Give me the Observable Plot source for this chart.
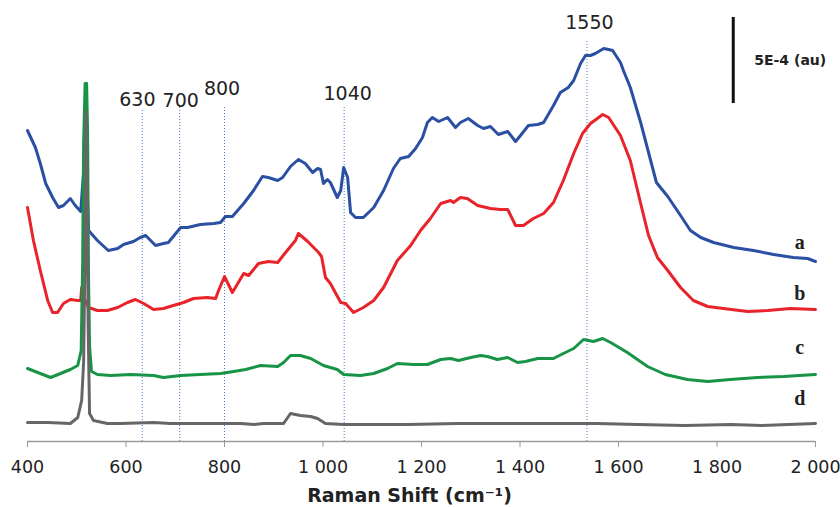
<!DOCTYPE html>
<html>
<head>
<meta charset="utf-8">
<script src="https://cdn.jsdelivr.net/npm/d3@7"></script>
<script src="https://cdn.jsdelivr.net/npm/@observablehq/plot@0.6"></script>
<style>
  html, body { margin: 0; padding: 0; background: #fff; }
  #chart svg { display: block; overflow: visible; }
</style>
</head>
<body>
<div id="chart"></div>
<script>
// Raman spectra (x: Raman shift in cm-1, y: intensity, arbitrary units, offset per curve)
const seriesA = [[400,31.1],[416,29.4],[426,27.8],[437,25.8],[451,24.4],[463,23.4],[473,23.6],[487,24.3],[497,23.6],[508,23.0],[514,27.0],[518,28.1],[522,24.0],[524,21.1],[542,20.1],[564,19.1],[583,19.3],[595,19.7],[615,20.0],[629,20.4],[640,20.6],[660,19.6],[676,19.8],[686,19.9],[711,21.4],[725,21.4],[751,21.7],[778,21.8],[792,21.9],[802,22.5],[816,22.5],[839,23.8],[859,25.1],[877,26.5],[889,26.4],[908,26.1],[918,26.4],[934,27.5],[950,28.2],[964,27.8],[979,26.9],[989,27.3],[995,27.2],[1001,25.8],[1009,26.2],[1015,25.9],[1029,24.4],[1036,25.1],[1042,27.4],[1050,26.4],[1056,22.9],[1066,22.4],[1082,22.4],[1103,23.4],[1123,25.1],[1143,27.3],[1157,28.3],[1174,28.5],[1188,29.3],[1202,30.4],[1212,31.9],[1222,32.4],[1235,32.0],[1253,32.4],[1269,31.4],[1279,31.9],[1295,32.3],[1314,31.6],[1326,31.3],[1340,31.5],[1356,30.7],[1375,31.0],[1391,30.0],[1401,30.6],[1417,31.6],[1436,31.7],[1448,31.9],[1468,33.6],[1482,34.9],[1498,35.4],[1509,36.1],[1523,37.8],[1533,38.6],[1543,38.6],[1553,38.8],[1570,39.3],[1580,39.2],[1588,39.1],[1604,37.9],[1610,37.1],[1624,35.4],[1645,31.9],[1661,28.9],[1677,25.9],[1700,24.5],[1726,22.6],[1746,21.1],[1767,20.4],[1793,19.9],[1834,19.4],[1874,19.1],[1915,18.7],[1955,18.4],[1984,18.3],[2000,18.0]];

const seriesB = [[400,23.4],[412,20.1],[426,17.1],[441,14.1],[451,12.9],[461,12.9],[473,13.8],[487,14.2],[502,14.1],[508,14.1],[510,15.4],[514,14.4],[524,13.4],[542,13.1],[562,13.1],[583,13.4],[603,13.9],[619,14.2],[636,13.8],[656,13.2],[676,13.3],[696,13.6],[717,13.9],[737,14.3],[765,14.4],[782,14.3],[788,15.1],[800,16.5],[816,14.9],[839,16.8],[849,16.6],[869,17.8],[889,18.0],[908,17.9],[924,18.9],[944,20.1],[950,20.8],[969,20.0],[991,18.9],[997,18.5],[1005,16.4],[1015,15.8],[1036,13.9],[1046,13.8],[1062,12.9],[1082,13.4],[1103,14.1],[1123,15.4],[1151,18.1],[1178,19.6],[1198,21.1],[1218,22.3],[1239,23.8],[1259,24.1],[1265,23.9],[1279,24.4],[1293,24.3],[1314,23.6],[1340,23.3],[1360,23.2],[1375,23.2],[1391,21.6],[1407,21.6],[1427,22.3],[1448,22.8],[1468,23.9],[1488,26.1],[1509,28.8],[1527,30.8],[1543,31.8],[1557,32.3],[1568,32.7],[1580,32.4],[1604,30.6],[1624,28.1],[1645,23.8],[1661,20.6],[1679,18.4],[1700,17.1],[1726,15.4],[1752,14.1],[1781,13.5],[1813,13.3],[1862,13.0],[1903,13.1],[1949,13.3],[2000,13.2]];

const seriesC = [[400,7.3],[426,6.8],[447,6.4],[467,6.8],[487,7.2],[502,7.6],[509,9.1],[512,18.0],[514,30.0],[517,35.8],[520,35.8],[522,31.0],[524,16.0],[526,9.5],[530,7.0],[542,6.7],[569,6.6],[609,6.7],[656,6.6],[676,6.4],[711,6.6],[751,6.7],[792,6.8],[806,6.9],[843,7.2],[873,7.6],[908,7.5],[920,7.9],[934,8.6],[954,8.6],[975,8.3],[1001,7.6],[1029,7.2],[1042,6.7],[1076,6.6],[1103,6.8],[1131,7.3],[1151,7.8],[1184,7.7],[1212,7.7],[1239,8.2],[1259,8.3],[1275,8.1],[1300,8.4],[1320,8.6],[1334,8.5],[1354,8.2],[1375,8.4],[1395,7.9],[1411,8.0],[1436,8.3],[1468,8.3],[1488,8.8],[1509,9.3],[1529,10.2],[1549,10.0],[1568,10.3],[1584,9.9],[1618,8.9],[1659,7.5],[1695,6.7],[1740,6.2],[1781,6.0],[1827,6.2],[1882,6.4],[1935,6.5],[2000,6.7]];

const seriesD = [[400,1.9],[441,1.9],[487,1.8],[502,2.4],[510,4.1],[514,8.0],[517,20.0],[519,33.0],[521,26.0],[523,12.0],[526,2.8],[534,2.1],[562,1.8],[589,1.8],[656,1.9],[690,1.8],[792,1.8],[833,1.8],[859,1.7],[879,1.8],[920,1.8],[934,2.8],[954,2.6],[975,2.5],[989,2.3],[1005,1.8],[1042,1.7],[1172,1.7],[1273,1.8],[1557,1.8],[1639,1.7],[1735,1.6],[1829,1.7],[1890,1.6],[1945,1.7],[2000,1.8]];

const seriesNames = ["a", "b", "c", "d"];
const seriesLabelY = [19.9, 14.8, 9.4, 4.3];
const seriesColors = ["#2a4fa3", "#e8232a", "#179445", "#666666"];

// dotted reference lines
const markerPos = [633, 709, 800, 1043, 1536];
const markerTop = [33.1, 33.4, 33.4, 33.5, 40.0];
const markerLabels = ["630", "700", "800", "1040", "1550"];
const markerLabelX = [623, 711, 795, 1050, 1541];
const markerLabelY = [34.2, 34.1, 35.3, 34.8, 41.9];

// x axis ticks
const tickValues = [400, 600, 800, 1000, 1200, 1400, 1600, 1800, 2000];
const tickLabels = ["400", "600", "800", "1 000", "1 200", "1 400", "1 600", "1 800", "2 000"];

// scale bar (5E-4 au)
const scaleBarX = 1833;
const scaleBarY = [33.8, 42.4];
const scaleBarLabel = "5E-4 (au)";

const toObjs = arr => arr.map(([x, y]) => ({x, y}));
const curves = [seriesA, seriesB, seriesC, seriesD].map(toObjs);

const markers = markerPos.map((x, i) => ({x, top: markerTop[i], label: markerLabels[i], lx: markerLabelX[i], ly: markerLabelY[i]}));
const seriesLabels = seriesNames.map((n, i) => ({n, y: seriesLabelY[i]}));

const sans = "DejaVu Sans, Verdana, sans-serif";

const chart = Plot.plot({
  width: 840,
  height: 507,
  marginLeft: 27,
  marginRight: 25,
  marginTop: 0,
  marginBottom: 66,
  style: {fontFamily: sans, fontSize: "17.5px", color: "#222", background: "#fff"},
  x: {domain: [400, 2000]},
  y: {domain: [0, 44.1], axis: null},
  marks: [
    Plot.ruleX(markers, {x: "x", y1: 0, y2: "top", stroke: "#4a7cc9", strokeWidth: 1, strokeDasharray: "1,2"}),
    Plot.text(markers, {x: "lx", y: "ly", text: "label", fontSize: 19, fill: "#222", lineAnchor: "middle"}),
    Plot.ruleY([0], {stroke: "#9a9a9a", strokeWidth: 1.5}),
    Plot.axisX({ticks: tickValues, tickFormat: d => tickLabels[tickValues.indexOf(d)], tickSize: 6, tickPadding: 13, stroke: "#9a9a9a", fill: "#222", label: null}),
    Plot.line(curves[0], {x: "x", y: "y", stroke: seriesColors[0], strokeWidth: 3, strokeLinejoin: "round"}),
    Plot.line(curves[1], {x: "x", y: "y", stroke: seriesColors[1], strokeWidth: 3, strokeLinejoin: "round"}),
    Plot.line(curves[2], {x: "x", y: "y", stroke: seriesColors[2], strokeWidth: 3, strokeLinejoin: "round"}),
    Plot.line(curves[3], {x: "x", y: "y", stroke: seriesColors[3], strokeWidth: 3, strokeLinejoin: "round"}),
    Plot.text(seriesLabels, {x: 1968, y: "y", text: "n", fontFamily: "Liberation Serif, Times New Roman, serif", fontWeight: "bold", fontSize: 20, fill: "#222", lineAnchor: "middle"}),
    Plot.ruleX([scaleBarX], {y1: scaleBarY[0], y2: scaleBarY[1], stroke: "#111", strokeWidth: 3}),
    Plot.text([scaleBarLabel], {x: scaleBarX, y: (scaleBarY[0] + scaleBarY[1]) / 2, text: d => d, dx: 21, textAnchor: "start", fontWeight: "bold", fontSize: 14, fill: "#222", lineAnchor: "middle"}),
    Plot.text(["Raman Shift (cm⁻¹)"], {frameAnchor: "bottom", dx: -12, dy: 54, text: d => d, fontWeight: "bold", fontSize: 19, fill: "#222", lineAnchor: "middle"})
  ]
});
document.getElementById("chart").appendChild(chart);
</script>
</body>
</html>
